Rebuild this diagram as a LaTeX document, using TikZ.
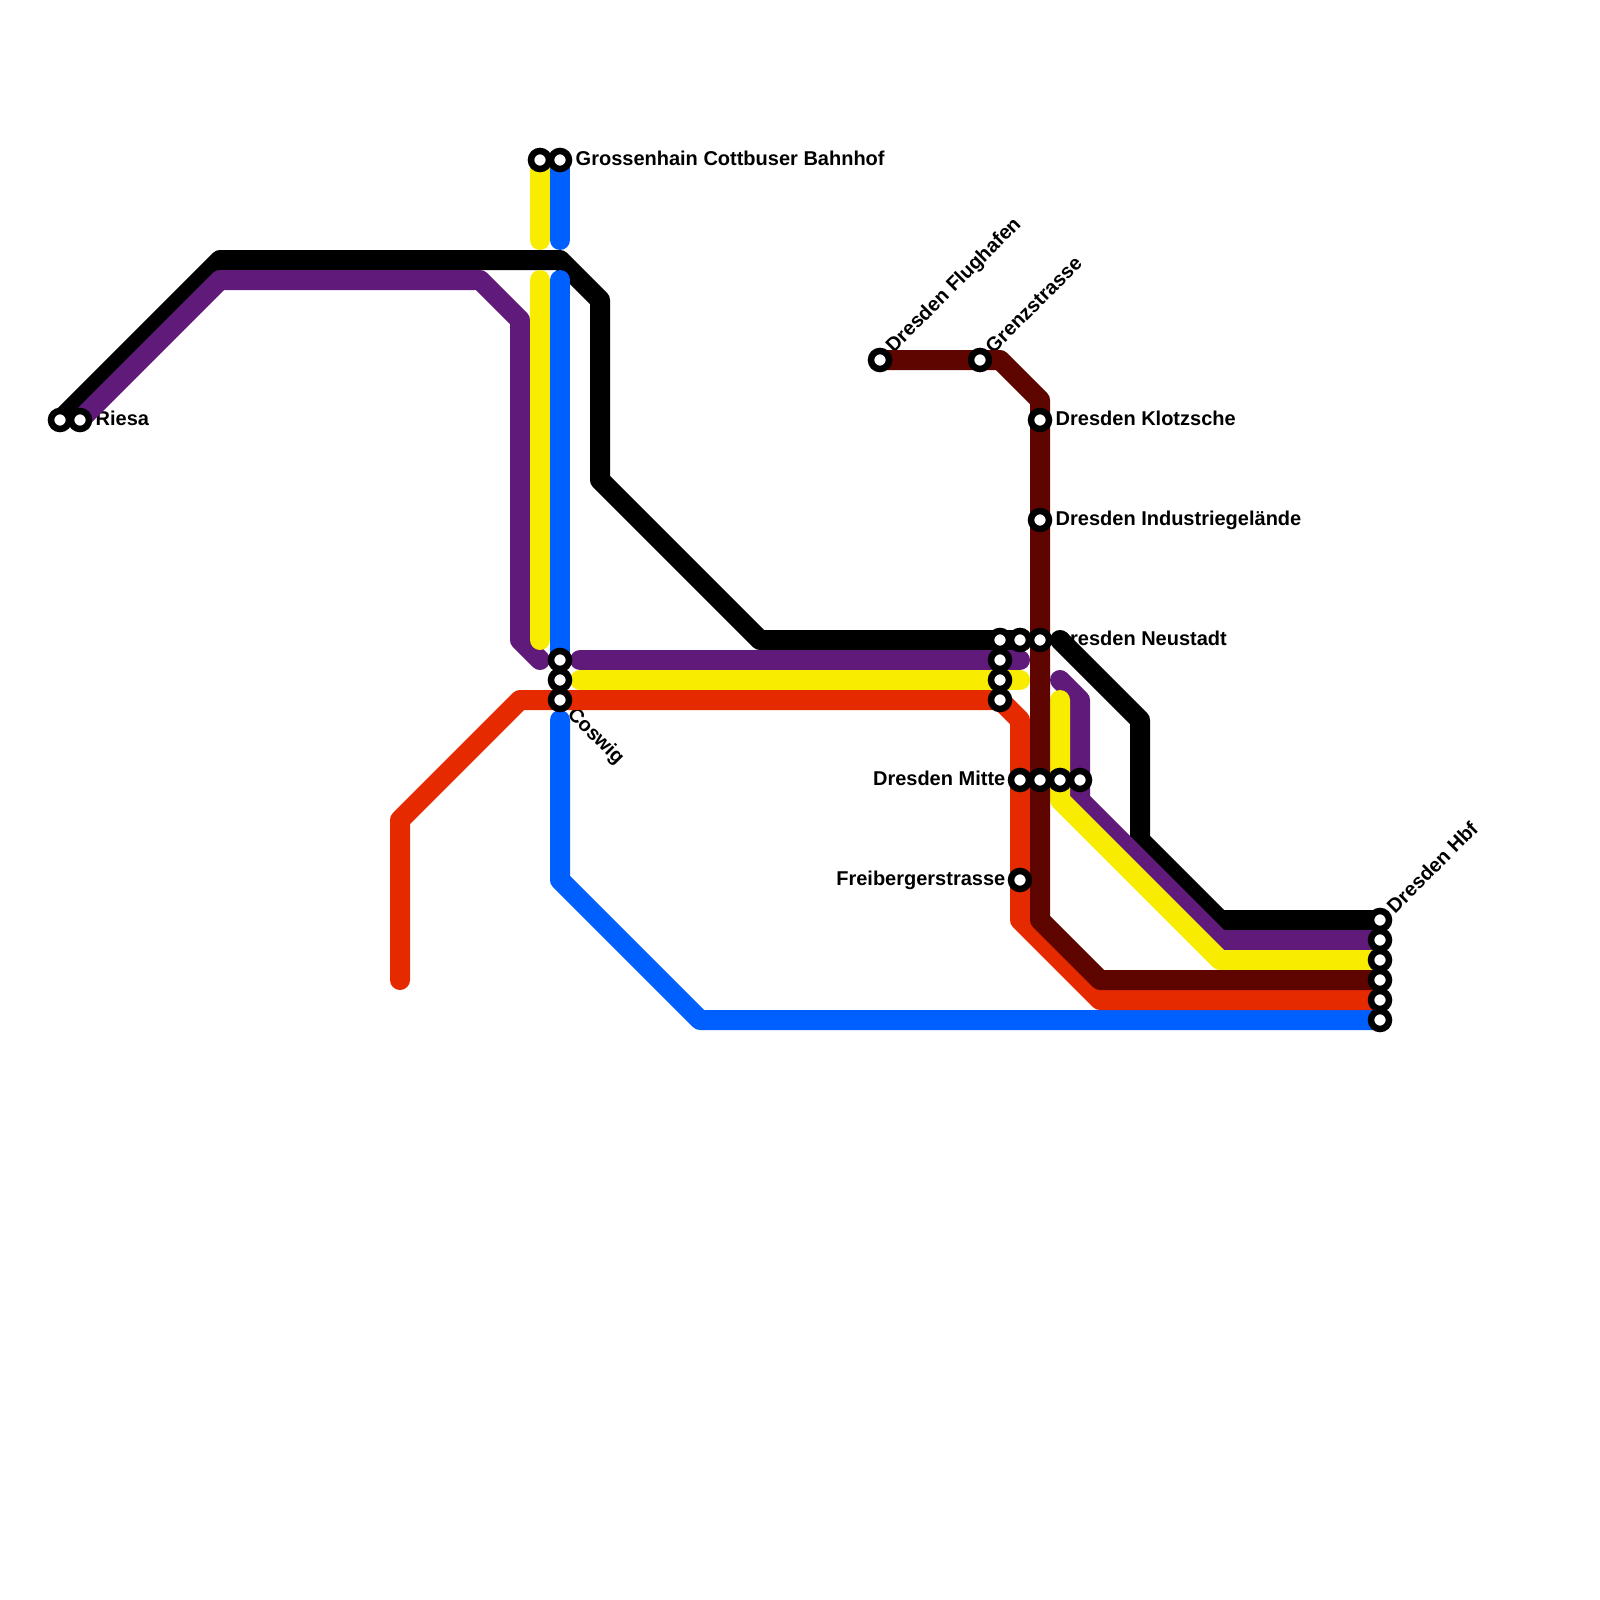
\documentclass[tikz,border=0pt]{standalone}
\usepackage{fontspec}
\setmainfont{Liberation Sans}
\pgfdeclarelayer{texts}
\pgfdeclarelayer{lines}
\pgfsetlayers{texts,lines,main}
\definecolor{cBlack}{HTML}{000000}
\definecolor{cPurple}{HTML}{5F1A7A}
\definecolor{cYellow}{HTML}{F8EC00}
\definecolor{cBlue}{HTML}{0060FF}
\definecolor{cRed}{HTML}{E62A00}
\definecolor{cBrown}{HTML}{5E0500}
\tikzset{
  stn/.style={circle,draw=black,fill=white,line width=6.5pt,minimum size=18pt,inner sep=0pt,outer sep=0pt},
  mline/.style={line width=20pt,line cap=round,line join=round},
  lbl/.style={font=\fontsize{20}{20}\selectfont\bfseries,inner sep=0pt,text=black}
}
\begin{document}
\begin{tikzpicture}[x=1pt,y=-1pt]
\useasboundingbox (0,0) rectangle (1600,1600);
% stations
\node[stn] (rA) at (60,420) {};
\node[stn] (rB) at (80,420) {};
\node[stn] (gA) at (540,160) {};
\node[stn] (gB) at (560,160) {};
\node[stn] (fl) at (880,360) {};
\node[stn] (gz) at (980,360) {};
\node[stn] (kl) at (1040,420) {};
\node[stn] (in) at (1040,520) {};
\node[stn] (nC) at (1040,640) {};
\node[stn] (nB) at (1020,640) {};
\node[stn] (nA) at (1000,640) {};
\node[stn] (nD) at (1000,660) {};
\node[stn] (nE) at (1000,680) {};
\node[stn] (nF) at (1000,700) {};
\node[stn] (cA) at (560,660) {};
\node[stn] (cB) at (560,680) {};
\node[stn] (cC) at (560,700) {};
\node[stn] (mA) at (1020,780) {};
\node[stn] (mB) at (1040,780) {};
\node[stn] (mC) at (1060,780) {};
\node[stn] (mD) at (1080,780) {};
\node[stn] (fb) at (1020,880) {};
\node[stn] (hA) at (1380,920) {};
\node[stn] (hB) at (1380,940) {};
\node[stn] (hC) at (1380,960) {};
\node[stn] (hD) at (1380,980) {};
\node[stn] (hE) at (1380,1000) {};
\node[stn] (hF) at (1380,1020) {};
% free ends of line segments
\coordinate (yGapA) at (540,240);
\coordinate (yGapB) at (540,280);
\coordinate (bGapA) at (560,240);
\coordinate (bGapB) at (560,280);
\coordinate (bGapC) at (560,720);
\coordinate (kEnd) at (1060,640);
\coordinate (pMidA) at (580,660);
\coordinate (pMidB) at (1020,660);
\coordinate (pEast) at (1060,680);
\coordinate (yMidA) at (580,680);
\coordinate (yMidB) at (1020,680);
\coordinate (yEast) at (1060,700);
\coordinate (rEnd) at (400,980);
\begin{pgfonlayer}{texts}
\node[lbl,anchor=base west] (tR) at (95.5,425) {Riesa};
\node[lbl,anchor=base west] (tG) at (575.5,165) {Grossenhain Cottbuser Bahnhof};
\node[lbl,anchor=west,rotate=45] (tF) at (890,350) {Dresden Flughafen};
\node[lbl,anchor=west,rotate=45] (tZ) at (988.5,349.5) {Grenzstrasse};
\node[lbl,anchor=base west] (tK) at (1055.5,425) {Dresden Klotzsche};
\node[lbl,anchor=base west] (tI) at (1055.5,525) {Dresden Industriegelände};
\node[lbl,anchor=base west] (tN) at (1055.5,645) {Dresden Neustadt};
\node[lbl,anchor=west,rotate=-45] (tC) at (570,711.5) {Coswig};
\node[lbl,anchor=base east] (tM) at (1005.5,785) {Dresden Mitte};
\node[lbl,anchor=base east] (tB) at (1005.5,885) {Freibergerstrasse};
\node[lbl,anchor=west,rotate=45] (tH) at (1390,909.5) {Dresden Hbf};
\end{pgfonlayer}
\begin{pgfonlayer}{lines}
\draw[mline,cBlack] (rA.center) -- (220,260) -- (560,260) -- (600,300) -- (600,480) -- (760,640) -- (nB.center);
\draw[mline,cBlack] (kEnd) -- (1140,720) -- (1140,840) -- (1220,920) -- (hA.center);
\draw[mline,cPurple] (rB.center) -- (220,280) -- (480,280) -- (520,320) -- (520,640) -- (540,660);
\draw[mline,cPurple] (pMidA) -- (pMidB);
\draw[mline,cPurple] (pEast) -- (1080,700) -- (1080,800) -- (1220,940) -- (hB.center);
\draw[mline,cYellow] (gA.center) -- (yGapA);
\draw[mline,cYellow] (yGapB) -- (540,640);
\draw[mline,cYellow] (yMidA) -- (yMidB);
\draw[mline,cYellow] (yEast) -- (1060,800) -- (1220,960) -- (hC.center);
\draw[mline,cBlue] (gB.center) -- (bGapA);
\draw[mline,cBlue] (bGapB) -- (cA.center);
\draw[mline,cBlue] (bGapC) -- (560,880) -- (700,1020) -- (hF.center);
\draw[mline,cRed] (rEnd) -- (400,820) -- (520,700) -- (nF.center) -- (1020,720) -- (1020,920) -- (1100,1000) -- (hE.center);
\draw[mline,cBrown] (fl.center) -- (1000,360) -- (1040,400) -- (1040,920) -- (1100,980) -- (hD.center);
\end{pgfonlayer}
\end{tikzpicture}
\end{document}
